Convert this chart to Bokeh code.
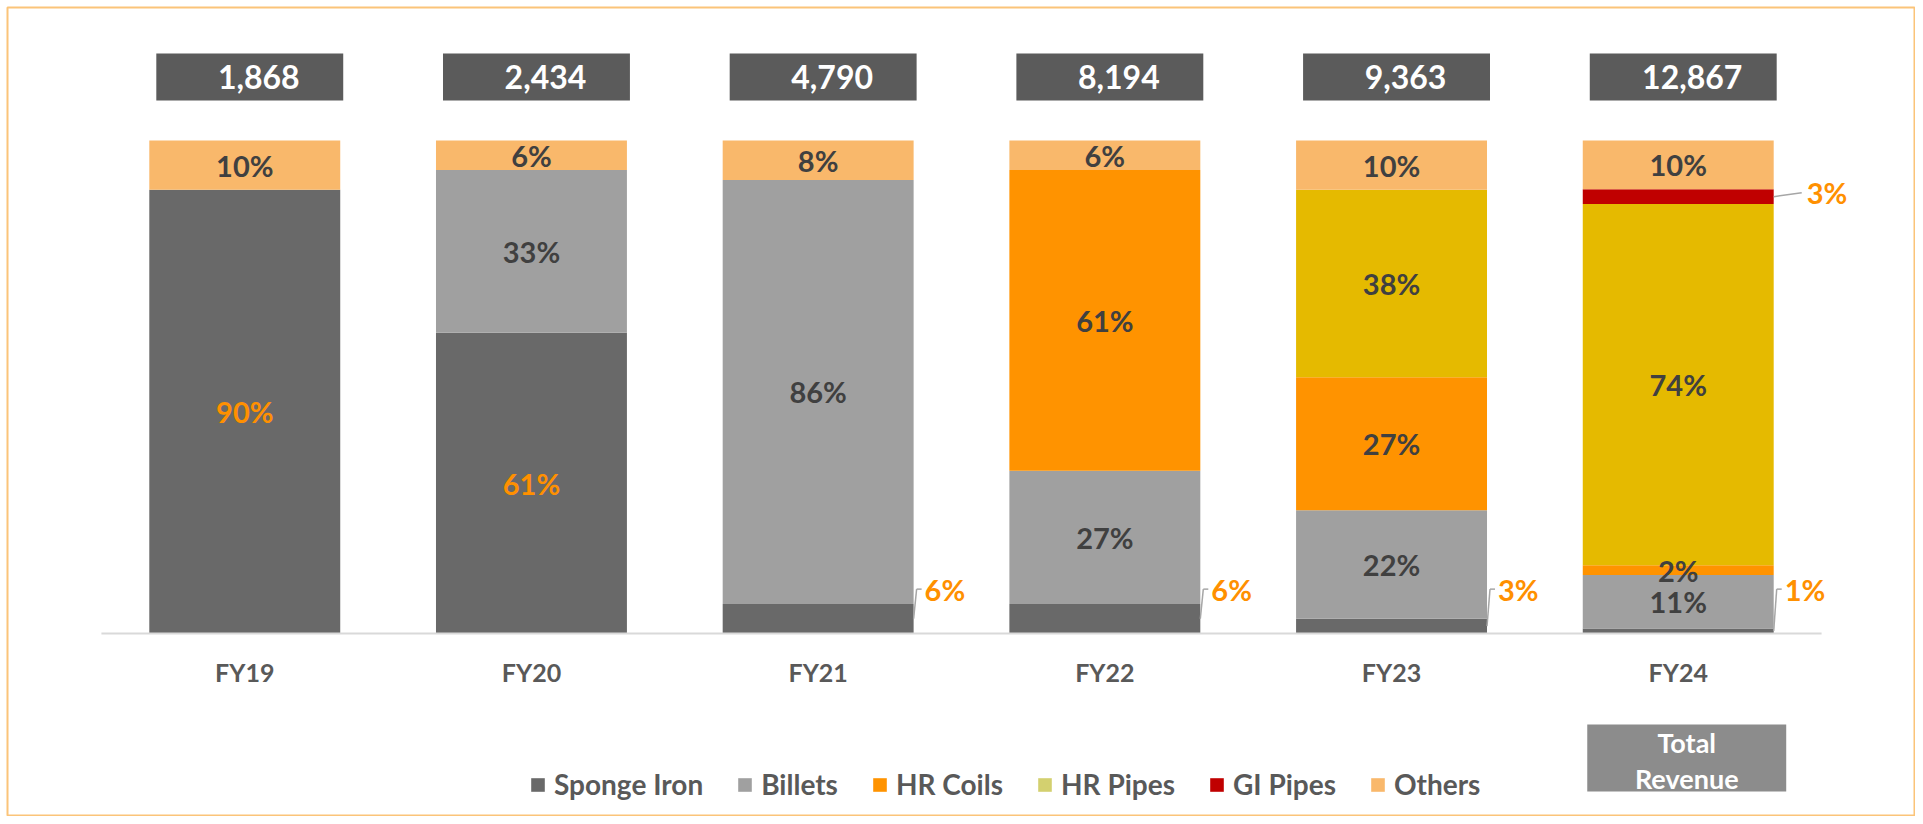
from bokeh.plotting import figure
from bokeh.models import ColumnDataSource, FactorRange, Legend, LegendItem, Range1d
from bokeh.transform import dodge
from bokeh.core.properties import value
from bokeh.embed import file_html
from bokeh.resources import INLINE

# ---------------- data ----------------
years = ["FY19", "FY20", "FY21", "FY22", "FY23", "FY24"]
total_revenue = [1868, 2434, 4790, 8194, 9363, 12867]
series = ["Sponge Iron", "Billets", "HR Coils", "HR Pipes", "GI Pipes", "Others"]
sponge_iron = [90, 61, 6, 6, 3, 1]
billets = [0, 33, 86, 27, 22, 11]
hr_coils = [0, 0, 0, 61, 27, 2]
hr_pipes = [0, 0, 0, 0, 38, 74]
gi_pipes = [0, 0, 0, 0, 0, 3]
others = [10, 6, 8, 6, 10, 10]
key_box_lines = ["Total", "Revenue"]

# ---------------- style ----------------
bar_colors = ["#696969", "#A0A0A0", "#FF9300", "#E5BA00", "#C00000", "#F9B86B"]
legend_colors = ["#696969", "#A0A0A0", "#FF9300", "#D3D06F", "#C00000", "#F9B86B"]
ORANGE = "#FF9000"
DARK = "#404040"
AXIS_TXT = "#595959"
FONT = "Lato"
UNIT = 286.7          # px per category (for small pixel offsets)
BAR_W = 0.666

keys = ["sponge", "billets", "coils", "pipes", "gi", "others"]
raw = [sponge_iron, billets, hr_coils, hr_pipes, gi_pipes, others]
sums = [sum(col) for col in zip(*raw)]
shares = [[v / s * 100 for v, s in zip(arr, sums)] for arr in raw]

data = {"year": years}
for k, arr in zip(keys, shares):
    data[k] = arr
src = ColumnDataSource(data)

p = figure(
    x_range=FactorRange(*years, range_padding=0.1092, range_padding_units="percent"),
    y_range=Range1d(-37.12, 126.98),
    width=1915, height=816,
    output_backend="svg", toolbar_location=None,
    x_axis_location=None, y_axis_location=None,
    min_border_left=7, min_border_top=7, min_border_right=0, min_border_bottom=0,
)
p.grid.visible = False
p.outline_line_color = "#FBC479"
p.outline_line_width = 2
p.background_fill_color = "white"
p.border_fill_color = "white"

rends = p.vbar_stack(keys, x="year", width=BAR_W, color=bar_colors, line_color=None, source=src)

# baseline
base_src = ColumnDataSource(dict(a=[years[0]], b=[years[-1]], y=[0]))
p.segment(x0=dodge("a", -0.5, range=p.x_range), x1=dodge("b", 0.5, range=p.x_range),
          y0="y", y1="y", line_color="#D9D9D9", line_width=2, source=base_src)

# inside labels and callouts
in_x, in_y, in_t, in_c = [], [], [], []
bc_x, bc_y, bc_t, bc_mid = [], [], [], []
gi_x, gi_y, gi_t, gi_m = [], [], [], []
for i, yr in enumerate(years):
    cum = 0.0
    for j, k in enumerate(keys):
        v = shares[j][i]
        lab = raw[j][i]
        if lab == 0:
            cum += v
            continue
        mid = cum + v / 2
        if k == "sponge" and lab < 10:
            bc_x.append(yr); bc_t.append(f"{lab}%"); bc_mid.append(mid); bc_y.append(9.0)
        elif k == "gi":
            gi_x.append(yr); gi_t.append(f"{lab}%"); gi_y.append(mid + 0.8); gi_m.append(mid)
        else:
            in_x.append(yr); in_y.append(mid); in_t.append(f"{lab}%")
            in_c.append(ORANGE if k == "sponge" else DARK)
        cum += v

txt_kw = dict(text_font=value(FONT), text_font_style="bold", text_font_size="29px",
              text_baseline="middle")
p.text(x="x", y="y", text="t", text_color="c", text_align="center",
       source=ColumnDataSource(dict(x=in_x, y=in_y, t=in_t, c=in_c)), **txt_kw)

half = BAR_W / 2
bsrc = ColumnDataSource(dict(x=bc_x, y=bc_y, t=bc_t, m=bc_mid))
p.segment(x0=dodge("x", half, range=p.x_range), y0="m",
          x1=dodge("x", half + 3 / UNIT, range=p.x_range), y1="y",
          line_color="#A6A6A6", line_width=1.5, source=bsrc)
p.segment(x0=dodge("x", half + 3 / UNIT, range=p.x_range), y0="y",
          x1=dodge("x", half + 8 / UNIT, range=p.x_range), y1="y",
          line_color="#A6A6A6", line_width=1.5, source=bsrc)
p.text(x=dodge("x", half + 11 / UNIT, range=p.x_range), y="y", text="t",
       text_color=ORANGE, text_align="left", source=bsrc, **txt_kw)

gsrc = ColumnDataSource(dict(x=gi_x, y=gi_y, t=gi_t, m=gi_m))
p.segment(x0=dodge("x", half, range=p.x_range), y0="m",
          x1=dodge("x", half + 28 / UNIT, range=p.x_range), y1="y",
          line_color="#A6A6A6", line_width=1.5, source=gsrc)
p.text(x=dodge("x", half + 33 / UNIT, range=p.x_range), y="y", text="t",
       text_color=ORANGE, text_align="left", source=gsrc, **txt_kw)

# total revenue boxes
tsrc = ColumnDataSource(dict(x=years, t=[f"{v:,}" for v in total_revenue]))
p.rect(x=dodge("x", 5 / UNIT, range=p.x_range), y=112.9, width=0.652, height=9.53,
       fill_color="#5B5B5B", line_color=None, source=tsrc)
p.text(x=dodge("x", 14 / UNIT, range=p.x_range), y=112.9, text="t", text_color="white",
       text_align="center", text_baseline="middle", text_font=value(FONT),
       text_font_style="bold", text_font_size="32px", source=tsrc)

# category labels
p.text(x="x", y=-7.9, text="x", text_color=AXIS_TXT, text_align="center",
       text_baseline="middle", text_font=value(FONT), text_font_style="bold",
       text_font_size="25px", source=ColumnDataSource(dict(x=years)))

# "Total Revenue" key box
ksrc = ColumnDataSource(dict(x=[years[-1]]))
p.rect(x=dodge("x", 8.5 / UNIT, range=p.x_range), y=-25.25, width=0.694, height=13.6,
       fill_color="#8C8C8C", line_color=None, source=ksrc)
klsrc = ColumnDataSource(dict(x=[years[-1]] * 2, y=[-22.1, -29.4], t=key_box_lines))
p.text(x=dodge("x", 8.5 / UNIT, range=p.x_range), y="y", text="t", text_color="white",
       text_align="center", text_baseline="middle", text_font=value(FONT),
       text_font_style="bold", text_font_size="27px", source=klsrc)

# legend
items = []
for j, name in enumerate(series):
    if legend_colors[j] != bar_colors[j]:
        dummy = p.vbar(x=[years[0]], top=[0], bottom=[0], width=0.01,
                       fill_color=legend_colors[j], line_color=None)
        items.append(LegendItem(label=name, renderers=[dummy]))
    else:
        items.append(LegendItem(label=name, renderers=[rends[j]]))
legend = Legend(items=items, orientation="horizontal", location=(522, 15),
                padding=0, margin=0, spacing=33, label_standoff=8,
                glyph_width=17, glyph_height=17,
                label_text_font=FONT, label_text_font_style="bold",
                label_text_font_size="28px", label_text_color=AXIS_TXT,
                border_line_color=None, background_fill_alpha=0)
p.add_layout(legend)

open("out.html", "w").write(file_html(p, INLINE))
